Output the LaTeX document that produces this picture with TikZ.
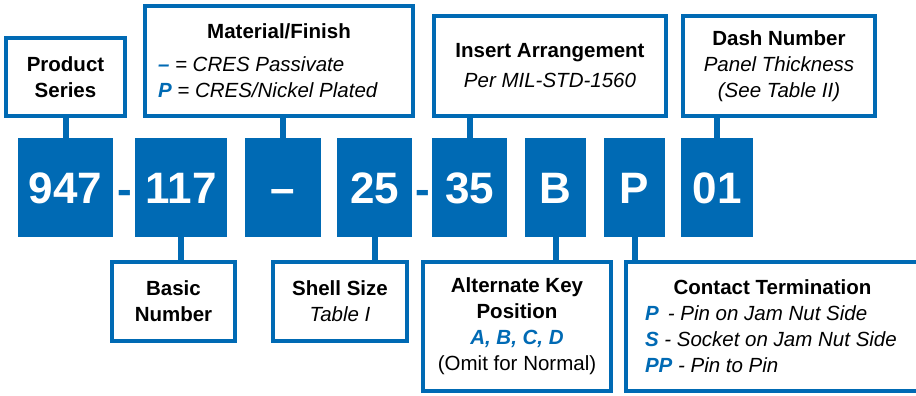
\documentclass[tikz,border=0pt]{standalone}
\usepackage{fontspec}
\setmainfont{Liberation Sans}
\definecolor{partblue}{RGB}{0,106,180}
\newcommand{\keyletter}[1]{\textcolor{partblue}{\textbf{\textit{#1}}}}

\begin{document}
\begin{tikzpicture}[x=1pt, y=-1pt,
  partbox/.style={fill=partblue, text=white, inner sep=0pt, minimum height=99pt,
    text height=32pt, text depth=0pt, font=\fontsize{44}{44}\selectfont\bfseries},
  info/.style={draw=partblue, line width=4pt, fill=white, inner sep=0pt, align=center,
    font=\fontsize{20.5}{26}\selectfont},
  joint/.style={text=partblue, inner sep=0pt, anchor=base,
    font=\fontsize{44}{44}\selectfont\bfseries},
  wire/.style={draw=partblue, line width=6pt}]

\clip (0,0) rectangle (916,396);

% ---- the part number ---------------------------------------------------------------
\node[partbox, minimum width=95pt] (c947) at (65.5,187.5) {947};
\node[joint] (h1) at (125,204) {-};
\node[partbox, minimum width=92pt] (c117) at (181,187.5) {117};
\node[partbox, minimum width=76pt] (cfin) at (283,187.5) {–};
\node[partbox, minimum width=75pt] (c25) at (374.5,187.5) {25};
\node[joint] (h2) at (422.5,204) {-};
\node[partbox, minimum width=75pt] (c35) at (469.5,187.5) {35};
\node[partbox, minimum width=61pt] (cB) at (555.5,187.5) {B};
\node[partbox, minimum width=61pt] (cP) at (634.5,187.5) {P};
\node[partbox, minimum width=72pt] (c01) at (717,187.5) {01};

% ---- labels above ------------------------------------------------------------------
\node[info, minimum width=119pt, minimum height=78pt] (series) at (65.5,77)
  {\textbf{Product}\\\textbf{Series}};
\node[info, minimum width=268pt, minimum height=110pt] (finish) at (279,61)
  {\textbf{Material/Finish}\\[7pt]
   \makebox[242pt][l]{\keyletter{–} \textit{= CRES Passivate}}\\
   \makebox[242pt][l]{\keyletter{P} \textit{= CRES/Nickel Plated}}};
\node[info, minimum width=232pt, minimum height=100pt] (insert) at (550,66)
  {\textbf{Insert Arrangement}\\[4pt]\textit{Per MIL-STD-1560}};
\node[info, minimum width=192pt, minimum height=100pt] (dashno) at (779,66)
  {\textbf{Dash Number}\\\textit{Panel Thickness}\\\textit{(See Table II)}};

% ---- labels below ------------------------------------------------------------------
\node[info, minimum width=123pt, minimum height=79pt] (basic) at (173.5,301.5)
  {\textbf{Basic}\\\textbf{Number}};
\node[info, minimum width=134pt, minimum height=79pt] (shell) at (340,301.5)
  {\textbf{Shell Size}\\\textit{Table I}};
\node[info, minimum width=188pt, minimum height=129pt] (keypos) at (517,326.5)
  {\textbf{Alternate Key}\\\textbf{Position}\\\keyletter{A, B, C, D}\\(Omit for Normal)};
\node[info, minimum width=293pt, minimum height=129pt] (contact) at (772.5,326.5)
  {\textbf{Contact Termination}\\
   \makebox[255pt][l]{\keyletter{P}\,\ \textit{- Pin on Jam Nut Side}}\\
   \makebox[255pt][l]{\keyletter{S} \textit{- Socket on Jam Nut Side}}\\
   \makebox[255pt][l]{\keyletter{PP} \textit{- Pin to Pin}}};

\draw[wire] (series.south -| c947.north) -- (c947.north);
\draw[wire] (finish.south -| cfin.north) -- (cfin.north);
\draw[wire] (insert.south -| c35.north) -- (c35.north);
\draw[wire] (dashno.south -| c01.north) -- (c01.north);
\draw[wire] (c117.south) -- (basic.north -| c117.south);
\draw[wire] (c25.south) -- (shell.north -| c25.south);
\draw[wire] (cB.south) -- (keypos.north -| cB.south);
\draw[wire] (cP.south) -- (contact.north -| cP.south);

\end{tikzpicture}
\end{document}
